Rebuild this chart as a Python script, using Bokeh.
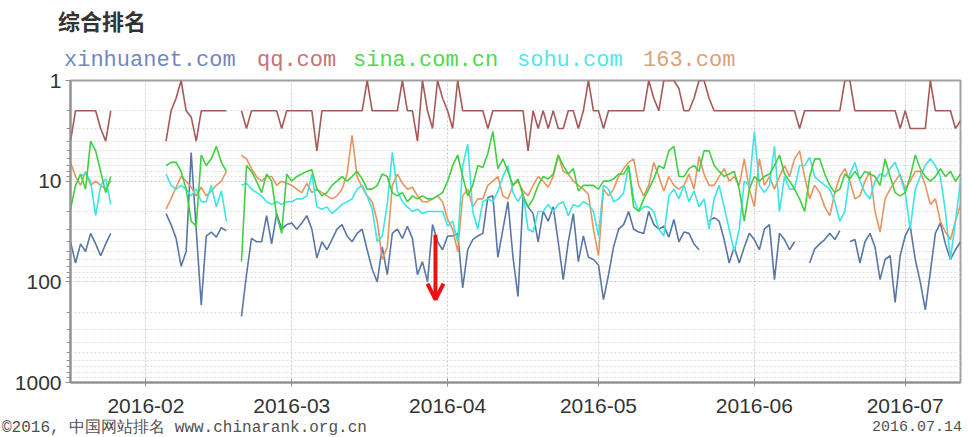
import calendar
from datetime import datetime, timedelta
import numpy as np
from bokeh.plotting import figure
from bokeh.layouts import column
from bokeh.models import (Range1d, DatetimeTickFormatter, MonthsTicker, Arrow, Div,
                          OpenHead, ColumnDataSource, FixedTicker, PrintfTickFormatter)
from bokeh.embed import file_html
from bokeh.resources import INLINE

N = None
start_date = datetime(2016, 1, 17)
n_days = 178

qq = [4, 2, 2, 2, 2, 2, 3, 4, 2, N,
      N, N, N, N, N, N, N, N, N, 4,
      2, 1.5, 1, 2, 2.3, 4, 2, 2, 2, 2,
      2, 2, N, N, 2, 3, 2, 2, 2, 2,
      2, 2, 3, 2, 2, 2, 2, 2, 2, 5,
      2, 2, 2, 2, 2, 2, 2, 2, 2, 1,
      2, 2, 2, 2, 2, 2, 1, 2, 2, 4,
      1, 2, 3, 1, 1.5, 2, 3, 1, 2, 2,
      2, 2, 2, 3, 2, 2, 2, 2, 2, 2,
      2, 5, 2, 3, 2, 3, 2, 3, 3, 2,
      2, 3, 2, 1, 2, 2, 3, 2, 2, 2,
      2, 2, 2, 2, 2, 1, 1.5, 2, 1, 1,
      1, 1.2, 2, 2, 1.5, 1, 1, 1.5, 2, 2,
      2, 2, 2, 2, 2, 2, 2, 2, 2, 2,
      2, 2, 2, 2, 2, 3, 2, 2, 2, 2,
      2, 2, 2, 2, 1, 1, 2, 2, 2, 2,
      2, 2, 2, 2, 2, 3, 2, 3, 3, 3,
      3, 1, 2, 2, 2, 2, 3, 2.5]

sina = [19, 11, 8.5, 12, 4, 5, 8, 13, 9, N,
        N, N, N, N, N, N, N, N, N, 7,
        6.5, 6.5, 8, 12, 25, 28, 5.5, 7, 6, 4.5,
        6.5, 8, N, N, 63, 7, 8, 10, 13, 8.5,
        10, 22, 33, 8.5, 10, 9, 8.5, 8, 7.7, 12,
        14, 13, 11, 10, 9, 10, 9, 8, 9.5, 12,
        12, 11, 8.5, 9, 13, 14, 13, 16, 14, 15,
        14, 15, 15, 14, 13, 10, 7, 5.5, 9, 14,
        11, 7, 7.3, 5.3, 3.2, 7.5, 6, 8, 11, 9.5,
        14, 18, 15, 11, 9, 9.5, 8.5, 5.5, 7, 8.5,
        7.5, 12.5, 11, 11, 11, 12, 10, 10, 9.5, 8.5,
        8.5, 7, 18, 20, 15, 12, 9.5, 7, 7.5, 5,
        4.5, 9, 9, 7.5, 7, 8, 5, 5, 7, 8,
        9, 8.5, 8, 12, 25, 12, 9, 10, 9, 8.5,
        7, 5.5, 8.5, 10, 12, 15, 20, 9, 6, 6,
        8.5, 11, 13, 12, 8.5, 9.5, 8, 9.5, 8, 8.5,
        9, 11, 6, 9, 13, 14, 13, 9, 5.5, 7.5,
        9, 10, 9, 7.5, 9, 8, 10, 8.5]

n163 = [6.5, 9, 11, 8, 11, 10, 11, 12, 10, N,
        N, N, N, N, N, N, N, N, N, 19,
        15, 11.5, 9, 10, 11.5, 14, 11.5, 14, 12.5, 11,
        10, 8, N, N, 5.5, 6, 7.5, 9, 10, 9,
        9, 11, 10, 10.5, 11, 12, 13, 10.5, 13, 12,
        13, 14, 15, 14, 12, 8.5, 3.5, 9, 11.5, 14,
        16, 25, 60, 45, 11, 8.5, 10.5, 12, 11.5, 14,
        16, 16, 15, 14, 16, 24, 30, 50, 14, 12,
        18, 15, 15, 11, 10, 9, 14, 15, 11, 10,
        12.5, 14, 11, 9, 10, 11.5, 9, 5.5, 8, 8.5,
        10, 11, 12, 13.5, 30, 55, 12, 14, 12, 9,
        7.5, 6.5, 6, 11, 14, 11, 6.5, 9, 12.5, 9,
        11, 12, 11, 8.5, 12, 5.7, 8.5, 11, 11, 9,
        7.5, 10, 9, 11, 6, 12, 18, 6, 11, 9,
        12, 9, 7, 9, 6, 5, 9, 15, 11, 13,
        18, 22, 13, 9, 7.5, 10, 15, 14, 10, 8,
        20, 32, 15, 12, 10, 8.5, 12, 10, 8, 8,
        11, 17, 15, 25, 32, 38, 25, 17]

sohu = [N, N, 9, 8.3, 10, 22, 11, 9.5, 17, N,
        N, N, N, N, N, N, N, N, N, 8.5,
        11, 12, 11, 12, 14, 12, 16, 16, 11, 18,
        12.5, 25, N, N, 11, 10.5, 12, 13, 14, 16,
        17, 16, 17, 16, 16, 15, 15, 14, 8.5, 18,
        19, 18, 21, 19, 17, 16, 15, 12, 11, 14,
        19, 40, 35, 17, 5.2, 12.5, 16, 18, 20, 19,
        21, 20, 20, 20, 20, 28, 25, 40, 7, 4.3,
        20, 30, 16, 15, 16, 12.5, 9, 7, 13, 16,
        13, 30, 32, 20, 20, 17, 20, 17, 16, 22,
        17, 18, 16, 17, 20, 35, 11, 12, 16, 15,
        13, 7, 15, 20, 18, 18, 20, 30, 35, 14,
        12, 15, 11, 16, 12.5, 18, 15, 30, 15, 11,
        18, 30, 50, 30, 10, 11, 3.2, 11, 13, 11,
        4.5, 20, 9, 12, 12, 7, 7, 5.8, 9, 10,
        11, 12, 16, 25, 20, 8.5, 6.5, 10, 13, 15,
        10, 8.5, 9, 7.5, 6.5, 9, 13, 30, 12, 9,
        7, 6, 7, 9, 20, 60, 25, 10]

xinhua = [40, 65, 42, 50, 33, 42, 55, 42, 33, N,
          N, N, N, N, N, N, N, N, N, 21,
          27, 37, 70, 50, 5.2, 30, 170, 35, 32, 36,
          29, 31, N, N, 220, 85, 37, 40, 40, 22,
          42, 21, 30, 27, 26, 30, 26, 22, 30, 58,
          40, 48, 38, 30, 27, 35, 40, 33, 30, 48,
          75, 100, 45, 85, 33, 30, 37, 28, 37, 85,
          63, 100, 27, 40, 48, 35, 35, 33, 115, 48,
          38, 35, 33, 14.5, 14, 57, 30, 16, 57, 140,
          14.5, 18, 21, 40, 20, 25, 18, 40, 95, 40,
          21, 63, 35, 57, 60, 68, 150, 85, 45, 30,
          27, 20, 30, 32, 33, 20, 27, 30, 28, 36,
          24, 40, 32, 33, 42, 48, N, 25, 23, 25,
          38, 65, 45, 65, 45, 33, 38, 48, 30, 27,
          95, 33, 38, 48, 40, N, N, 65, 47, 42,
          38, 33, 38, 31, N, 40, 38, 65, 40, 33,
          45, 95, 60, 55, 160, 55, 35, 28, 60, 100,
          190, 80, 33, 26, 42, 60, 48, 40]

series_names = ["xinhuanet.com", "qq.com", "sina.com.cn", "sohu.com", "163.com"]
line_colors = ["#5a76a6", "#a65a58", "#3fd03f", "#3de4e4", "#e8945e"]
text_colors = ["#7088bd", "#c47474", "#4fd84f", "#4fe8e8", "#dca07a"]

y_major_ticks = [1, 10, 100, 1000]
y_minor_ticks = [2, 3, 4, 5, 6, 7, 8, 9, 20, 30, 40, 50, 60, 70, 80, 90,
                 200, 300, 400, 500, 600, 700, 800, 900]

title_text = "综合排名"
footer_left = "©2016, 中国网站排名 www.chinarank.org.cn"
footer_right = "2016.07.14"

arrow_date = datetime(2016, 3, 29, 14)
arrow_from, arrow_to = 34, 150


def to_ms(d):
    return calendar.timegm(d.timetuple()) * 1000.0


dates = [start_date + timedelta(days=i) for i in range(n_days)]


def arr(v):
    return np.array([np.nan if x is None else x for x in v], dtype=float)


src = ColumnDataSource(dict(date=dates, xinhua=arr(xinhua), qq=arr(qq), sina=arr(sina),
                            sohu=arr(sohu), n163=arr(n163)))

HEADER_H = 70
FOOTER_H = 20
FIG_H = 437 - HEADER_H - FOOTER_H

p = figure(width=968, height=FIG_H, x_axis_type="datetime", y_axis_type="log",
           x_range=Range1d(dates[0], dates[-1]), y_range=Range1d(1000, 1),
           output_backend="svg", toolbar_location=None,
           min_border_left=70, min_border_right=8, min_border_top=10,
           min_border_bottom=FIG_H - 312, margin=(0, 0, 0, 0))
p.background_fill_color = "white"
p.border_fill_color = "white"
p.outline_line_color = "#a0a0a0"
p.outline_line_width = 2

for col, c in [("xinhua", line_colors[0]), ("n163", line_colors[4]), ("sohu", line_colors[3]),
               ("sina", line_colors[2]), ("qq", line_colors[1])]:
    p.line(x="date", y=col, source=src, line_color=c, line_width=1.6)

p.xaxis.ticker = MonthsTicker(months=list(range(1, 13)))
p.xaxis.formatter = DatetimeTickFormatter(months="%Y-%m", days="%Y-%m", hours="%Y-%m")
p.yaxis.ticker = FixedTicker(ticks=y_major_ticks, minor_ticks=y_minor_ticks)
p.yaxis.formatter = PrintfTickFormatter(format="%d")

for ax in (p.xaxis[0], p.yaxis[0]):
    ax.axis_line_color = "#909090"
    ax.axis_line_width = 2
    ax.major_tick_line_color = "#909090"
    ax.minor_tick_line_color = "#909090"
    ax.major_label_text_font = "Liberation Sans"
    ax.major_label_text_font_size = "21px"
    ax.major_label_text_color = "#333333"
p.xaxis.major_tick_in = 4
p.xaxis.major_tick_out = 4
p.xaxis.minor_tick_line_color = None
p.xaxis.major_label_standoff = 12
p.yaxis.major_tick_in = 0
p.yaxis.major_tick_out = 5
p.yaxis.minor_tick_in = 0
p.yaxis.minor_tick_out = 4
p.yaxis.major_label_standoff = 4

p.xgrid.grid_line_color = "#c8c8c8"
p.xgrid.grid_line_dash = "2 2"
p.ygrid.grid_line_color = "#c8c8c8"
p.ygrid.grid_line_dash = "2 2"
p.ygrid.minor_grid_line_color = "#dddddd"
p.ygrid.minor_grid_line_dash = "2 2"

p.add_layout(Arrow(end=OpenHead(size=16, line_color="#ee1111", line_width=4),
                   x_start=to_ms(arrow_date), y_start=arrow_from,
                   x_end=to_ms(arrow_date), y_end=arrow_to,
                   line_color="#ee1111", line_width=4))

# header: title + coloured series names
legend_left = [64, 257, 353, 517, 643]
spans = ['<span style="position:absolute;left:58px;top:9px;line-height:1;'
         'font-family:\'Noto Sans CJK SC\';font-weight:bold;font-size:22px;'
         'color:#333333;white-space:nowrap;">%s</span>' % title_text]
for name, c, lx in zip(series_names, text_colors, legend_left):
    spans.append('<span style="position:absolute;left:%dpx;top:50px;line-height:1;'
                 'font-family:\'Liberation Mono\';font-size:22px;color:%s;'
                 'white-space:nowrap;">%s</span>' % (lx, c, name))
header = Div(text='<div style="position:relative;width:968px;height:%dpx;">%s</div>'
             % (HEADER_H, "".join(spans)), width=968, height=HEADER_H, margin=(0, 0, 0, 0))

footer = Div(text='<div style="position:relative;width:968px;height:%dpx;">'
             '<span style="position:absolute;left:2px;top:3px;line-height:1;'
             'font-family:\'Liberation Mono\';font-size:16px;color:#505050;'
             'white-space:nowrap;">%s</span>'
             '<span style="position:absolute;right:6px;top:3px;line-height:1;'
             'font-family:\'Liberation Mono\';font-size:15px;color:#505050;'
             'white-space:nowrap;">%s</span></div>' % (FOOTER_H, footer_left, footer_right),
             width=968, height=FOOTER_H, margin=(0, 0, 0, 0))

layout = column(header, p, footer, spacing=0)

open("out.html", "w").write(file_html(layout, INLINE))
